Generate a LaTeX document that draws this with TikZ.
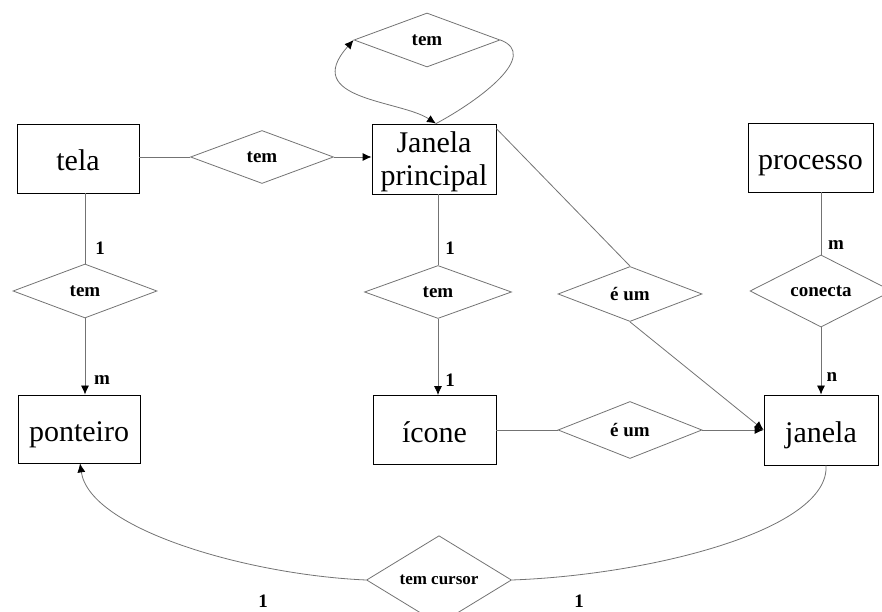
\documentclass[tikz,border=0pt]{standalone}
\usepackage{fontspec}
\setmainfont{Liberation Serif}
\usetikzlibrary{shapes.geometric,arrows.meta}

\begin{document}
\begin{tikzpicture}[x=1pt,y=1pt,
	entidade/.style={draw=black, line width=0.8pt, inner sep=0pt, align=center, text height=28pt, text depth=3pt, font=\fontsize{30}{30}\selectfont},
	relacao/.style={diamond, draw=black!55, line width=0.8pt, inner sep=0pt, font=\bfseries\fontsize{19}{20}\selectfont},
	card/.style={inner sep=0pt, font=\bfseries\fontsize{19}{20}\selectfont},
	liga/.style={draw=black!55, line width=0.8pt},
	seta/.style={liga, -{Latex[black, length=9pt, width=8pt]}}]
	%%%%% START %%%%%
	
	\useasboundingbox (0,0) rectangle (882,612);
	
	% entidades
	\node[entidade, minimum width=122, minimum height=69] (tela) at (78,453.5) {tela};
	\node[entidade, minimum width=124, minimum height=70, text height=60pt, text depth=6pt, font=\fontsize{30}{33}\selectfont] (janelaP) at (434,453) {Janela\\principal};
	\node[entidade, minimum width=125, minimum height=69] (processo) at (810.5,454.5) {processo};
	\node[entidade, minimum width=122, minimum height=68] (ponteiro) at (79,183) {ponteiro};
	\node[entidade, minimum width=123, minimum height=69] (icone) at (434.5,182) {ícone};
	\node[entidade, minimum width=114, minimum height=70] (janela) at (821,182) {janela};
	
	% relacionamentos
	\node[relacao, minimum width=146, minimum height=54] (temTopo) at (427,572) {tem};
	\node[relacao, minimum width=143, minimum height=53] (temTela) at (262,455) {tem};
	\node[relacao, minimum width=144, minimum height=54] (temPont) at (85,321) {tem};
	\node[relacao, minimum width=147, minimum height=53] (temIcone) at (438,320) {tem};
	\node[relacao, minimum width=144, minimum height=55] (eUm1) at (630,318) {é um};
	\node[relacao, minimum width=142, minimum height=54] (conecta) at (821,321) {conecta};
	\node[relacao, minimum width=144, minimum height=57] (eUm2) at (630,182) {é um};
	\node[relacao, minimum width=145, minimum height=72, font=\bfseries\fontsize{17}{18}\selectfont] (cursor) at (439,32) {tem cursor};
	
	% cardinalidades
	\node[card] (c1) at (100,364) {1};
	\node[card] (c2) at (102,232) {m};
	\node[card] (c3) at (450,364) {1};
	\node[card] (c4) at (450,232) {1};
	\node[card] (c5) at (836,367) {m};
	\node[card] (c6) at (832,235) {n};
	\node[card] (c7) at (263,11) {1};
	\node[card] (c8) at (579,11) {1};
	
	% ligacoes
	\draw[liga] (tela.east |- temTela) -- (temTela.west);
	\draw[seta] (temTela.east) -- (temTela.east -| janelaP.west);
	\draw[liga, {Latex[black, length=9pt, width=8pt]}-{Latex[black, length=9pt, width=8pt]}] (temTopo.west) .. controls (300,512) and (400,512) .. ([xshift=2pt]janelaP.north);
	\draw[liga] (temTopo.east) .. controls (540,557) and (480,512) .. ([xshift=2pt]janelaP.north);
	
	\draw[liga] (tela.south -| temPont.north) -- (temPont.north);
	\draw[seta] (temPont.south) -- (temPont.south |- ponteiro.north);
	\draw[liga] (janelaP.south -| temIcone.north) -- (temIcone.north);
	\draw[seta] (temIcone.south) -- (temIcone.south |- icone.north);
	
	\draw[liga] ([yshift=-5pt]janelaP.north east) -- (eUm1.north);
	\draw[seta] (eUm1.south) -- (janela.west);
	\draw[liga] (icone.east) -- (eUm2.west);
	\draw[seta] (eUm2.east) -- (janela.west);
	
	\draw[liga] (processo.south -| conecta.north) -- (conecta.north);
	\draw[seta] (conecta.south) -- (janela.north);
	
	\draw[seta] (cursor.west) .. controls (250,37) and (90,82) .. ([xshift=1pt]ponteiro.south);
	\draw[liga] (cursor.east) .. controls (650,37) and (830,82) .. ([xshift=5pt]janela.south);
	
	%%%%% END %%%%%
\end{tikzpicture}
\end{document}
